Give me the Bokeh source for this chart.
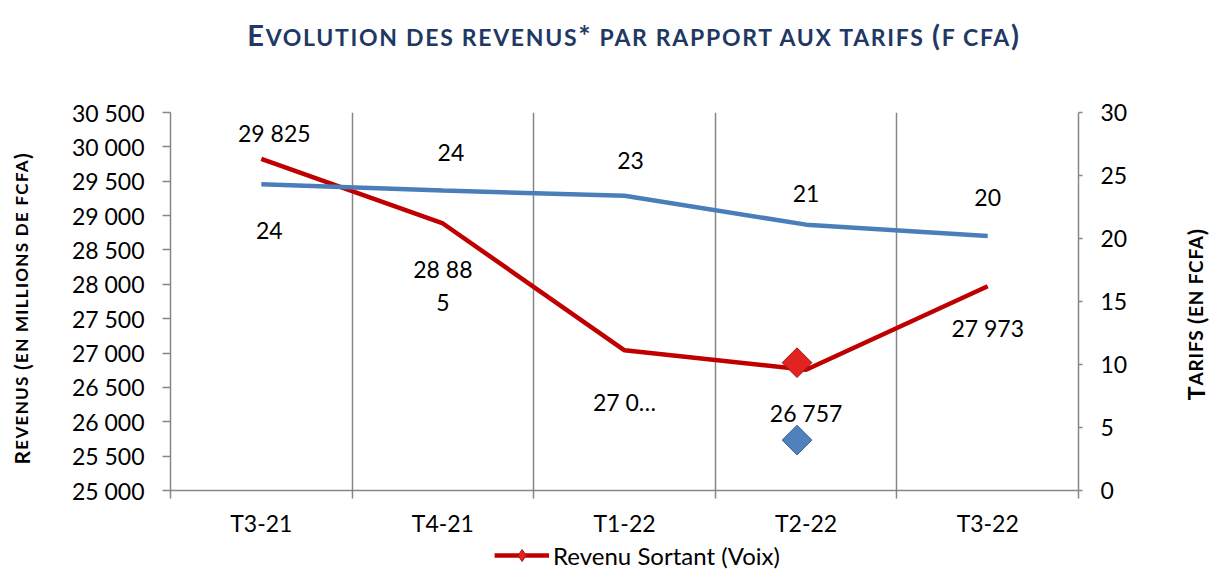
import math
from bokeh.plotting import figure
from bokeh.models import (Range1d, LinearAxis, FixedTicker, CustomJSTickFormatter,
                          Legend, LegendItem, Div)
from bokeh.layouts import column, row
from bokeh.embed import file_html
from bokeh.resources import INLINE
from bokeh.core.properties import value

# ---------------- data ----------------
categories = ["T3-21", "T4-21", "T1-22", "T2-22", "T3-22"]
revenu = [29825, 28885, 27040, 26757, 27973]
revenu_labels = ["29 825", "28 88\n5", "27 0\u2026", "26 757", "27 973"]
tarifs = [24.3, 23.8, 23.4, 21.1, 20.2]
tarif_labels = ["24", "24", "23", "21", "20"]
left_ticks = [25000, 25500, 26000, 26500, 27000, 27500, 28000, 28500, 29000, 29500, 30000, 30500]
right_ticks = [0, 5, 10, 15, 20, 25, 30]
marker_category = "T2-22"
marker_revenu = [26860]
marker_tarif = [4]
legend_label = "Revenu Sortant (Voix)"

# ---------------- styles ----------------
FONT = "Lato"
RED = "#C00000"
BLUE = "#4A7EBB"
GRAY = "#868686"
FS = "23px"

xs = [i + 0.5 for i in range(len(categories))]
mx = [xs[categories.index(marker_category)] - 0.05]


def smallcaps(parts, big_px):
    out = ""
    for t, b in parts:
        out += ('<span style="font-size:%dpx">%s</span>' % (big_px, t)) if b else t
    return out


title_html = (
    '<div style="font-family:Lato, sans-serif; font-weight:bold;'
    ' font-size:23px; letter-spacing:1.7px; color:#1F3864; text-align:center; line-height:34px;'
    ' padding-top:18px; padding-left:59px; box-sizing:border-box; width:1209px; white-space:nowrap;">'
    + smallcaps([("E", True), ("VOLUTION DES REVENUS", False), ("*", True),
                 (" PAR RAPPORT AUX TARIFS ", False), ("(", True), ("F CFA", False), (")", True)], 29)
    + '</div>'
)
title = Div(text=title_html, width=1209, height=56, margin=(0, 0, 0, 0))

FIG_H = 484


def vlabel(parts, small_px, big_px, spacing, width, center_y):
    return Div(
        text=('<div style="width:%dpx; height:%dpx; display:flex; align-items:center;'
              ' justify-content:center;">'
              '<div style="writing-mode:vertical-rl; transform:rotate(180deg); white-space:nowrap;'
              ' font-family:Lato, sans-serif; font-weight:bold; color:black; font-size:%dpx;'
              ' letter-spacing:%spx;">%s</div></div>')
        % (width, 2 * center_y, small_px, spacing, smallcaps(parts, big_px)),
        width=width, height=FIG_H, margin=(0, 0, 0, 0))


left_label = vlabel([("R", True), ("EVENUS ", False), ("(", True),
                     ("EN MILLIONS DE FCFA", False), (")", True)], 17, 21, 1.3, 44, 252)
right_label = vlabel([("T", True), ("ARIFS ", False), ("(", True),
                      ("EN FCFA", False), (")", True)], 19, 23, 0.8, 40, 258)

p = figure(width=1132, height=FIG_H, x_range=Range1d(0, 5), y_range=Range1d(25000, 30500),
           output_backend="svg", toolbar_location=None,
           min_border_left=126, min_border_right=98, min_border_top=56, min_border_bottom=50)
p.margin = (0, 0, 0, 0)
p.outline_line_color = None
p.background_fill_color = "white"
p.extra_y_ranges = {"tarif": Range1d(0, 30)}

p.ygrid.visible = False
p.xgrid.ticker = FixedTicker(ticks=[1, 2, 3, 4])
p.xgrid.grid_line_color = GRAY
p.xgrid.grid_line_width = 1.5

# x axis
xa = p.xaxis[0]
xa.ticker = FixedTicker(ticks=xs, minor_ticks=[0, 1, 2, 3, 4, 5])
xa.major_label_overrides = {x: c for x, c in zip(xs, categories)}
xa.major_tick_out = 0
xa.major_tick_in = 0
xa.minor_tick_out = 8
xa.minor_tick_in = 0
xa.minor_tick_line_color = GRAY
xa.minor_tick_line_width = 1.5
xa.major_label_standoff = 10

# left axis
ya = p.yaxis[0]
ya.ticker = FixedTicker(ticks=left_ticks)
ya.formatter = CustomJSTickFormatter(
    code="return tick.toString().replace(/\\B(?=(\\d{3})+(?!\\d))/g, ' ');")
ya.minor_tick_out = 0
ya.minor_tick_in = 0
ya.major_tick_out = 8
ya.major_tick_in = 0
ya.major_label_standoff = 18

# right axis
ra = LinearAxis(y_range_name="tarif", ticker=FixedTicker(ticks=right_ticks))
ra.major_tick_out = 4
ra.major_tick_in = 0
ra.minor_tick_out = 0
ra.minor_tick_in = 0
ra.major_label_standoff = 18
p.add_layout(ra, "right")

for ax in [xa, ya, ra]:
    ax.axis_line_color = GRAY
    ax.axis_line_width = 1.5
    ax.major_tick_line_color = GRAY
    ax.major_tick_line_width = 1.5
    ax.major_label_text_font = FONT
    ax.major_label_text_font_size = FS
    ax.major_label_text_color = "black"

# lines
p.line(xs, revenu, line_color=RED, line_width=4.5)
p.line(xs, tarifs, y_range_name="tarif", line_color=BLUE, line_width=4.5)

# data labels
p.text(x=xs, y=revenu, text=revenu_labels,
       x_offset=[13, 0, 0, 0, 0], y_offset=[-26, 62, 52, 43, 42],
       text_align="center", text_baseline="middle", text_line_height=1.2,
       text_font=value(FONT), text_font_size=FS, text_color="black")
p.text(x=xs, y=tarifs, text=tarif_labels, y_range_name="tarif",
       x_offset=[8, 8, 6, 0, 0], y_offset=[46, -38, -35, -31, -38],
       text_align="center", text_baseline="middle",
       text_font=value(FONT), text_font_size=FS, text_color="black")

# stray diamond markers
p.scatter(mx, marker_revenu, marker="square", angle=math.pi / 4, size=21,
          fill_color="#E32222", line_color="#A01515", line_width=1)
p.scatter(mx, marker_tarif, y_range_name="tarif", marker="square", angle=math.pi / 4,
          size=21, fill_color="#4F81BD", line_color="#3A6496", line_width=1)

# legend (separate strip under the chart); its renderers hold the series
# but lie outside this strip's ranges, so only the legend glyphs show
lf = figure(width=1209, height=30, x_range=Range1d(0, 1), y_range=Range1d(0, 1),
            output_backend="svg", toolbar_location=None, x_axis_type=None, y_axis_type=None,
            min_border_left=65, min_border_right=0, min_border_top=0, min_border_bottom=0)
lf.margin = (0, 0, 0, 0)
lf.outline_line_color = None
lf.grid.visible = False
lg_line = lf.line(xs, revenu, line_color=RED, line_width=4.5)
lg_mark = lf.scatter(mx, marker_revenu, marker="diamond", size=13,
                     fill_color="#E32222", line_color="#A01515")
legend = Legend(items=[LegendItem(label=legend_label, renderers=[lg_line, lg_mark])],
                location="center", orientation="horizontal",
                border_line_color=None, background_fill_alpha=0,
                label_text_font=FONT, label_text_font_size="24px", label_text_color="black",
                glyph_width=55, glyph_height=30, label_standoff=4,
                padding=0, margin=0)
lf.add_layout(legend)

layout = column(title, row(left_label, p, right_label, margin=(0, 0, 0, 0)), lf,
                margin=(0, 0, 0, 0))
open("out.html", "w").write(file_html(layout, INLINE))
